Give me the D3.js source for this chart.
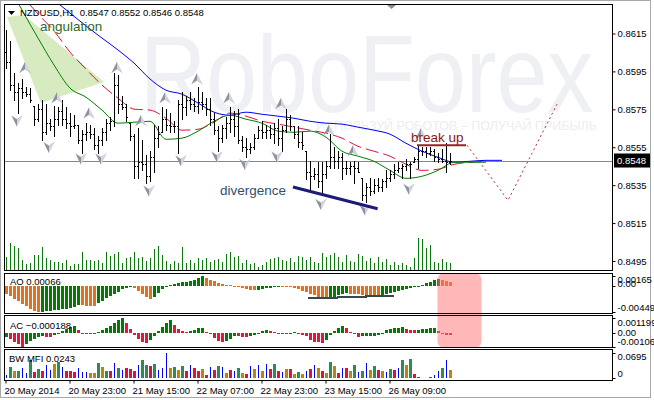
<!DOCTYPE html>
<html><head><meta charset="utf-8">
<script src="https://cdn.jsdelivr.net/npm/d3@7"></script>
<style>
body{margin:0;background:#fff;}
svg{display:block;font-family:"Liberation Sans",Arial,sans-serif;}
</style></head><body>
<svg id="c" width="654" height="400"></svg>
<script>
// ---------------- DATA ----------------
const symbol = "NZDUSD", timeframe = "H1";
const barOpen = [0.8605,0.8600,0.8588,0.8584,0.8586,0.8584,0.8583,0.8577,0.8570,0.8575,
 0.8563,0.8568,0.8566,0.8570,0.8574,0.8570,0.8568,0.8566,0.8567,0.8559,
 0.8562,0.8563,0.8562,0.8556,0.8559,0.8563,0.8568,0.8569,0.8588,0.8578,
 0.8576,0.8568,0.8561,0.8545,0.8547,0.8546,0.8540,0.8550,0.8560,0.8563,
 0.8570,0.8567,0.8566,0.8566,0.8578,0.8576,0.8580,0.8578,0.8577,0.8579,
 0.8578,0.8575,0.8570,0.8564,0.8560,0.8565,0.8568,0.8570,0.8566,0.8559,
 0.8555,0.8554,0.8555,0.8560,0.8564,0.8563,0.8564,0.8562,0.8565,0.8560,
 0.8564,0.8570,0.8566,0.8562,0.8558,0.8553,0.8542,0.8540,0.8541,0.8537,
 0.8541,0.8545,0.8550,0.8548,0.8550,0.8544,0.8544,0.8545,0.8544,0.8539,
 0.8530,0.8534,0.8532,0.8535,0.8534,0.8537,0.8539,0.8541,0.8543,0.8544,
 0.8545,0.8546,0.8547,0.8549,0.8553,0.8553,0.8552,0.8553,0.8550,0.8549,
 0.8548,0.8547];
const barHigh = [0.8617,0.8611,0.8594,0.8589,0.8591,0.8587,0.8586,0.8577,0.8578,0.8580,
 0.8578,0.8570,0.8577,0.8576,0.8580,0.8576,0.8573,0.8572,0.8567,0.8564,
 0.8568,0.8567,0.8565,0.8561,0.8565,0.8570,0.8571,0.8594,0.8593,0.8582,
 0.8578,0.8568,0.8562,0.8565,0.8559,0.8551,0.8553,0.8567,0.8566,0.8576,
 0.8575,0.8573,0.8569,0.8580,0.8584,0.8582,0.8584,0.8581,0.8587,0.8584,
 0.8581,0.8581,0.8573,0.8566,0.8567,0.8571,0.8576,0.8574,0.8575,0.8561,
 0.8560,0.8557,0.8562,0.8566,0.8569,0.8567,0.8567,0.8568,0.8570,0.8566,
 0.8575,0.8572,0.8566,0.8566,0.8563,0.8553,0.8548,0.8544,0.8547,0.8547,
 0.8548,0.8562,0.8555,0.8553,0.8552,0.8548,0.8547,0.8548,0.8547,0.8539,
 0.8536,0.8539,0.8538,0.8539,0.8538,0.8543,0.8543,0.8546,0.8547,0.8546,
 0.8549,0.8547,0.8550,0.8556,0.8555,0.8555,0.8555,0.8554,0.8552,0.8554,
 0.8557,0.8552];
const barLow = [0.8597,0.8585,0.8580,0.8573,0.8581,0.8582,0.8579,0.8567,0.8569,0.8559,
 0.8562,0.8564,0.8561,0.8567,0.8567,0.8565,0.8561,0.8565,0.8557,0.8552,
 0.8559,0.8560,0.8554,0.8552,0.8556,0.8559,0.8564,0.8566,0.8573,0.8575,
 0.8569,0.8559,0.8539,0.8539,0.8543,0.8536,0.8537,0.8542,0.8555,0.8563,
 0.8564,0.8563,0.8563,0.8552,0.8570,0.8572,0.8575,0.8574,0.8573,0.8575,
 0.8572,0.8567,0.8562,0.8553,0.8558,0.8560,0.8563,0.8561,0.8557,0.8553,
 0.8550,0.8552,0.8554,0.8560,0.8560,0.8560,0.8560,0.8557,0.8556,0.8553,
 0.8563,0.8564,0.8560,0.8555,0.8554,0.8538,0.8532,0.8538,0.8534,0.8531,
 0.8539,0.8544,0.8544,0.8544,0.8538,0.8541,0.8541,0.8536,0.8542,0.8527,
 0.8526,0.8530,0.8531,0.8532,0.8532,0.8534,0.8537,0.8539,0.8542,0.8539,
 0.8543,0.8539,0.8547,0.8544,0.8551,0.8550,0.8551,0.8548,0.8547,0.8547,
 0.8542,0.8546];
const barClose = [0.8600,0.8588,0.8584,0.8586,0.8584,0.8583,0.8580,0.8570,0.8575,0.8563,
 0.8568,0.8566,0.8570,0.8574,0.8570,0.8568,0.8566,0.8567,0.8559,0.8562,
 0.8563,0.8562,0.8556,0.8559,0.8563,0.8568,0.8569,0.8588,0.8578,0.8576,
 0.8571,0.8561,0.8545,0.8547,0.8546,0.8540,0.8550,0.8560,0.8562,0.8570,
 0.8567,0.8566,0.8566,0.8578,0.8576,0.8580,0.8578,0.8577,0.8579,0.8578,
 0.8575,0.8570,0.8564,0.8560,0.8565,0.8568,0.8570,0.8566,0.8559,0.8555,
 0.8554,0.8555,0.8560,0.8564,0.8563,0.8564,0.8562,0.8565,0.8560,0.8564,
 0.8570,0.8566,0.8562,0.8558,0.8556,0.8542,0.8540,0.8541,0.8537,0.8541,
 0.8545,0.8550,0.8548,0.8550,0.8544,0.8544,0.8545,0.8544,0.8542,0.8530,
 0.8534,0.8532,0.8535,0.8534,0.8537,0.8539,0.8541,0.8543,0.8544,0.8545,
 0.8546,0.8546,0.8549,0.8553,0.8553,0.8552,0.8553,0.8550,0.8549,0.8548,
 0.8547,0.8548];
const tickVolume = [1300,2700,2400,2200,1000,600,700,1500,1500,2300,
 1200,1000,800,800,700,1000,400,600,600,1800,
 1000,1000,900,1000,700,1800,1400,1600,1800,700,
 1200,1300,1800,1200,1300,900,1200,2100,2400,1500,
 900,600,900,700,2300,700,1000,700,1200,1000,
 1200,800,1000,1100,800,1600,1800,1300,1400,700,
 1000,600,700,300,500,800,1100,1200,1300,1000,
 900,1200,800,1400,1300,1000,1300,800,700,1700,
 1300,1500,1700,1300,800,1500,900,800,1600,1400,
 900,1200,700,1300,800,1100,500,800,500,700,
 500,300,1200,3200,3100,2200,2500,800,700,1100,
 800,700];

// Alligator lines, sampled every 4 bars (index may run past the last bar: forward shift)
const maIndex = [0,4,8,12,16,20,24,28,32,36,40,44,48,52,56,60,64,68,72,76,80,84,88,92,96,100,104,108,112,116,120,124];
const jaw = [0.86565,0.86486,0.86401,0.86327,0.86258,0.86190,0.86126,0.86063,0.85994,0.85910,0.85851,0.85830,0.85783,0.85735,0.85719,0.85735,0.85724,0.85714,0.85703,0.85687,0.85677,0.85672,0.85656,0.85640,0.85619,0.85571,0.85529,0.85497,0.85471,0.85476,0.85481,0.85481];
const teeth = [0.86443,0.86348,0.86253,0.86163,0.86052,0.85962,0.85878,0.85809,0.85751,0.85746,0.85703,0.85640,0.85645,0.85682,0.85730,0.85714,0.85687,0.85672,0.85656,0.85640,0.85624,0.85598,0.85555,0.85529,0.85503,0.85460,0.85428,0.85434,0.85460,0.85471,0.85476,null];
const lips = [0.86433,0.86274,0.86126,0.85984,0.85862,0.85814,0.85746,0.85677,0.85682,0.85687,0.85592,0.85598,0.85635,0.85687,0.85719,0.85698,0.85677,0.85635,0.85629,0.85635,0.85603,0.85529,0.85503,0.85476,0.85428,0.85386,0.85397,0.85428,0.85471,0.85471,0.85471,null];

// Fractals (bar index, arrow price)
const fractalUpIndex = [4,12,20,27,33,39,47,55,68,80,86,103];
const fractalUpPrice = [0.8597,0.8581,0.8573,0.8597,0.8569,0.8581,0.8591,0.8581,0.8578,0.8564,0.8553,0.8562];
const fractalDownIndex = [2,10,18,23,35,43,52,59,67,78,89,100];
const fractalDownPrice = [0.8569,0.8555,0.8549,0.8549,0.8532,0.8548,0.8550,0.8546,0.8550,0.8525,0.8522,0.8533];

// Awesome Oscillator
const aoValues = [-0.00136,-0.00179,-0.00222,-0.00264,-0.00307,-0.00350,-0.00392,-0.00427,-0.00449,-0.00444,
 -0.00437,-0.00430,-0.00421,-0.00413,-0.00403,-0.00392,-0.00380,-0.00368,-0.00333,-0.00338,
 -0.00345,-0.00350,-0.00351,-0.00299,-0.00256,-0.00213,-0.00179,-0.00142,-0.00102,-0.00060,
 -0.00034,-0.00014,-0.00043,-0.00094,-0.00145,-0.00196,-0.00227,-0.00196,-0.00119,-0.00060,
 -0.00017,0.00014,0.00031,0.00048,0.00060,0.00068,0.00082,0.00102,0.00136,0.00165,
 0.00128,0.00102,0.00077,0.00051,0.00031,0.00020,0.00010,-0.00003,-0.00017,-0.00034,
 -0.00051,-0.00068,-0.00078,-0.00068,-0.00056,-0.00048,-0.00034,-0.00020,-0.00010,-0.00015,
 -0.00020,-0.00026,-0.00034,-0.00060,-0.00085,-0.00111,-0.00136,-0.00162,-0.00188,-0.00210,
 -0.00218,-0.00208,-0.00188,-0.00167,-0.00148,-0.00133,-0.00136,-0.00142,-0.00147,-0.00152,
 -0.00157,-0.00160,-0.00164,-0.00167,-0.00154,-0.00136,-0.00119,-0.00102,-0.00085,-0.00068,
 -0.00051,-0.00038,-0.00022,-0.00009,0.00017,0.00043,0.00068,0.00094,0.00109,0.00090,
 0.00077,0.00066];
// Accelerator Oscillator
const acValues = [-0.000312,-0.000467,-0.000701,-0.000857,-0.001060,-0.000857,-0.000623,-0.000467,-0.000312,-0.000234,
 -0.000273,-0.000296,-0.000156,-0.000039,0.000156,0.000312,0.000467,0.000545,0.000234,0.000039,
 -0.000039,-0.000062,-0.000078,0.000078,0.000234,0.000390,0.000545,0.000779,0.001013,0.001199,
 0.000779,0.000312,-0.000156,-0.000467,-0.000701,-0.000818,-0.000545,-0.000234,0.000156,0.000467,
 0.000779,0.001013,0.000623,0.000312,0.000156,0.000078,0.000156,0.000273,0.000390,0.000428,
 0.000117,-0.000078,-0.000390,-0.000623,-0.000701,-0.000623,-0.000467,-0.000195,-0.000234,-0.000273,
 -0.000312,-0.000234,-0.000156,-0.000039,0.000156,0.000234,0.000156,0.000078,0.000039,-0.000039,
 -0.000062,0.000039,0.000078,-0.000039,-0.000156,-0.000234,-0.000545,-0.000701,-0.000740,-0.000763,
 -0.000545,-0.000156,0.000156,0.000390,0.000584,0.000428,0.000117,-0.000078,-0.000273,-0.000257,
 -0.000234,-0.000218,-0.000195,-0.000117,0.000039,0.000234,0.000312,0.000390,0.000428,0.000467,
 0.000351,0.000273,0.000234,0.000273,0.000312,0.000351,0.000390,0.000405,0.000156,0.000023,
 -0.000117,-0.000188];
// Market Facilitation Index + state (G green, F fade/brown, K fake/blue, S squat/pink)
const mfiValues = [0.0092,0.0325,0.0203,0.0203,0.0297,0.0139,0.0509,0.0186,0.0259,0.0203,
 0.0370,0.0222,0.0389,0.0464,0.0325,0.0203,0.0203,0.0167,0.0297,0.0186,
 0.0186,0.0139,0.0139,0.0417,0.0325,0.0203,0.0195,0.0417,0.0278,0.0222,
 0.0297,0.0259,0.0203,0.0370,0.0509,0.0370,0.0353,0.0398,0.0222,0.0278,
 0.0695,0.0297,0.0325,0.0231,0.0353,0.0203,0.0370,0.0297,0.0203,0.0259,
 0.0092,0.0325,0.0231,0.0342,0.0325,0.0139,0.0231,0.0203,0.0278,0.0139,
 0.0120,0.0353,0.0250,0.0370,0.0203,0.0389,0.0259,0.0398,0.0203,0.0167,
 0.0259,0.0259,0.0111,0.0167,0.0111,0.0203,0.0259,0.0370,0.0278,0.0203,
 0.0139,0.0445,0.0342,0.0139,0.0297,0.0278,0.0203,0.0370,0.0186,0.0203,
 0.0417,0.0231,0.0342,0.0231,0.0203,0.0167,0.0259,0.0231,0.0278,0.0509,
 0.0370,0.0528,0.0120,0.0047,0.0019,0.0019,0.0028,0.0092,0.0203,0.0297,
 0.0509,0.0243];
const mfiState = "KGFGKKGSGSKKFGKSSSKKKFFGFGSKGKSSSKGGSGKKKFGFGSKSSFSKSGKFSKGFSKFKFKSGSKFSFGFKSKFSFGFSKSFGKGKFGSFKGSKGFGSSFKSKKGKF";

// axes
const priceTicks = [0.8495,0.8515,0.8535,0.8555,0.8575,0.8595,0.8615];
const timeTickIndex = [0,16,32,48,64,80,96];
const timeTickLabels = ["20 May 2014","20 May 23:00","21 May 15:00","22 May 07:00","22 May 23:00","23 May 15:00","26 May 09:00"];
const aoScaleLabels = [0.00165,0,-0.00449];
const acScaleLabels = [0.001199,0,-0.00106];
const mfiScaleLabels = [0.0695,0];

// annotations (bar index / price)
const angulationZone = [[0.25,0.86237],[4.5,0.86248],[24.5,0.85894],[8.75,0.85783]];
const angulationLabel = {i:8.5,p:0.86163,text:"angulation"};
const divergenceLine = [[71.75,0.85340],[92.9,0.85226]];
const divergenceLabel = {i:53.5,p:0.85296,text:"divergence"};
const breakLine = [[102.75,0.85561],[115,0.85561]];
const breakLabel = {i:101.25,p:0.85576,text:"break up"};
const forecastPath = [[115.25,0.85561],[125.5,0.85270],[137.75,0.85777]];
const aoLevels = [[75.5,83,-0.00215],[82.75,90.25,-0.00198],[89.75,97,-0.00181]];
const highlightRange = [108,119];

// ---------------- LAYOUT ----------------
const svg = d3.select('#c');
const L = 4.5, R = 612.5;
const pMain = {t:4.5,b:270.5}, pAO = {t:273.5,b:313.5}, pAC = {t:315.5,b:347.5}, pBW = {t:349.5,b:380.5};
const N = barClose.length, last = N-1;
const x = d3.scaleLinear().domain([0,111]).range([6,450]);
const X = i => Math.round(x(i));
const y = d3.scaleLinear().domain([0.8495,0.8615]).range([261,33.5]);
const yVol = d3.scaleLinear().domain([0,3300]).range([270,237]);
const yAO = d3.scaleLinear().domain([-0.00449,0.00165]).range([312,276]);
const yAC = d3.scaleLinear().domain([-0.00106,0.001199]).range([346.5,318]);
const yBW = d3.scaleLinear().domain([0,0.0695]).range([378.3,353.3]);

// outer window frame
svg.append('rect').attr('x',0.5).attr('y',0.5).attr('width',650).attr('height',397)
  .attr('fill','#fff').attr('stroke','#a8a8a8');

const defs = svg.append('defs');
defs.append('clipPath').attr('id','cm').append('rect').attr('x',L).attr('y',pMain.t).attr('width',R-L).attr('height',pMain.b-pMain.t);

// watermark
const wm = svg.append('g').attr('clip-path','url(#cm)');
wm.append('text').attr('transform','translate(140,112) scale(0.833,1)').attr('font-size',110).attr('fill','#eef0f4')
  .text('RoboForex');
wm.append('text').attr('x',597).attr('y',130).attr('text-anchor','end').attr('font-size',12.5).attr('fill','#eceef2')
  .text('ИСПОЛЬЗУЙ РОБОТОВ – ПОЛУЧАЙ ПРИБЫЛЬ');

const gm = svg.append('g').attr('clip-path','url(#cm)');
// angulation zone
gm.append('path').attr('d', d3.line().x(d=>x(d[0])).y(d=>y(d[1]))(angulationZone)+'Z')
  .attr('fill','#c2de9e').attr('opacity',0.65);

// current price line
gm.append('line').attr('x1',L).attr('x2',R).attr('y1',Math.round(y(barClose[last]))+0.5).attr('y2',Math.round(y(barClose[last]))+0.5)
  .attr('stroke','#7a8a9a').attr('stroke-width',1);

// volumes
gm.append('g').selectAll('path').data(tickVolume).join('path')
  .attr('d',(v,i)=>`M${X(i)+0.5},${pMain.b}V${yVol(v)}`).attr('stroke','#0a7a0a').attr('stroke-width',1).attr('shape-rendering','crispEdges');

// alligator
const maLine = arr => d3.line().defined((d,k)=>arr[k]!=null).x((d,k)=>x(maIndex[k])).y((d,k)=>y(arr[k])).curve(d3.curveMonotoneX)(arr);
gm.append('path').attr('d',maLine(jaw)).attr('fill','none').attr('stroke','#0000ff').attr('stroke-width',1);
gm.append('path').attr('d',maLine(teeth)).attr('fill','none').attr('stroke','#e0103c').attr('stroke-width',1).attr('stroke-dasharray','13,5');
gm.append('path').attr('d',maLine(lips)).attr('fill','none').attr('stroke','#008000').attr('stroke-width',1);

// OHLC bars
const bars = gm.append('g').attr('stroke','#000').attr('stroke-width',1).attr('shape-rendering','crispEdges').attr('fill','none');
barClose.forEach((c,i)=>{
  const xx = X(i);
  const yo = Math.round(y(barOpen[i]))+0.5, yc = Math.round(y(c))+0.5;
  bars.append('path').attr('d',`M${xx+0.5},${Math.round(y(barHigh[i]))}V${Math.round(y(barLow[i]))+1}M${xx-1},${yo}H${xx}M${xx+1},${yc}H${xx+2}`);
});

// fractal arrows
function arrow(g, cx, cy, up){
  const s = up?1:-1;
  const tip=[cx,cy-6*s], bl=[cx-5.5,cy+5*s], n=[cx,cy+1.5*s], br=[cx+5.5,cy+5*s];
  g.append('path').attr('d',`M${tip}L${bl}L${n}Z`).attr('fill','#8e909e');
  g.append('path').attr('d',`M${tip}L${br}L${n}Z`).attr('fill','#d2d4dc');
  g.append('path').attr('d',`M${bl}L${n}L${br}`).attr('fill','none').attr('stroke','#b8bac4').attr('stroke-width',0.6);
}
const gf = gm.append('g');
fractalUpIndex.forEach((i,k)=>arrow(gf, x(i)+3, y(fractalUpPrice[k]), true));
fractalDownIndex.forEach((i,k)=>arrow(gf, x(i)+3, y(fractalDownPrice[k]), false));

// annotations
const ln = d3.line().x(d=>x(d[0])).y(d=>y(d[1]));
gm.append('path').attr('d',ln(divergenceLine)).attr('stroke','#1c1c78').attr('stroke-width',3).attr('fill','none');
gm.append('path').attr('d',ln(breakLine)).attr('stroke','#9b2222').attr('stroke-width',2).attr('fill','none');
gm.append('path').attr('d',ln(forecastPath)).attr('stroke','#b0303a').attr('stroke-width',1).attr('stroke-dasharray','2,3').attr('fill','none');
gm.append('text').attr('x',x(angulationLabel.i)).attr('y',y(angulationLabel.p)).attr('font-size',13.5).attr('fill','#2f6a2a').text(angulationLabel.text);
gm.append('text').attr('x',x(divergenceLabel.i)).attr('y',y(divergenceLabel.p)).attr('font-size',13.5).attr('fill','#34506e').text(divergenceLabel.text);
gm.append('text').attr('x',x(breakLabel.i)).attr('y',y(breakLabel.p)).attr('font-size',13.5).attr('fill','#8b1515').text(breakLabel.text);

// chart shift marker and title
svg.append('path').attr('d','M387,5L396,5L391.5,9Z').attr('fill','#8c8c8c');
svg.append('path').attr('d','M8,11L15,11L11.5,15Z').attr('fill','#000');
const f4 = d3.format('.4f');
svg.append('text').attr('x',20).attr('y',16).attr('font-size',9.5).attr('fill','#000').attr('xml:space','preserve')
  .text(`${symbol},${timeframe}  ${f4(barOpen[last])} ${f4(barHigh[last])} ${f4(barLow[last])} ${f4(barClose[last])}`);

// ---------------- SUB PANELS ----------------
const gAO = svg.append('g').attr('shape-rendering','crispEdges');
aoValues.forEach((v,i)=>{
  const up = i===0 ? false : v>aoValues[i-1];
  const y0 = yAO(0), y1 = yAO(v);
  gAO.append('rect').attr('x',X(i)-1).attr('width',3).attr('y',Math.min(y0,y1)).attr('height',Math.max(1,Math.abs(y1-y0)))
    .attr('fill', up ? '#067806' : '#e2701e');
});
aoLevels.forEach(d=>{
  gAO.append('line').attr('x1',x(d[0])).attr('x2',x(d[1])).attr('y1',yAO(d[2])).attr('y2',yAO(d[2])).attr('stroke','#34494e').attr('stroke-width',2);
});
const gAC = svg.append('g').attr('shape-rendering','crispEdges');
acValues.forEach((v,i)=>{
  const up = i===0 ? true : v>acValues[i-1];
  const y0 = yAC(0), y1 = yAC(v);
  gAC.append('rect').attr('x',X(i)-1).attr('width',3).attr('y',Math.min(y0,y1)).attr('height',Math.max(1,Math.abs(y1-y0)))
    .attr('fill', up ? '#067806' : '#e0173f');
});
const mfiColor = {G:'#2e8b57',F:'#b8860b',K:'#0000ff',S:'#dc143c'};
const gBW = svg.append('g').attr('shape-rendering','crispEdges');
mfiValues.forEach((v,i)=>{
  const st = mfiState[i];
  const w = st==='K' ? 1 : 3;
  gBW.append('rect').attr('x',st==='K'?X(i):X(i)-1).attr('width',w).attr('y',yBW(v)).attr('height',yBW(0)-yBW(v)).attr('fill',mfiColor[st]);
});

// highlight box over AO/AC
svg.append('rect').attr('x',x(highlightRange[0])-0.5).attr('width',x(highlightRange[1])-x(highlightRange[0])).attr('y',pAO.t).attr('height',pAC.b-pAO.t)
  .attr('rx',6).attr('fill','#ff7070').attr('opacity',0.5);

// panel frames
[pMain,pAO,pAC,pBW].forEach(p=>{
  svg.append('rect').attr('x',L).attr('y',p.t).attr('width',R-L).attr('height',p.b-p.t).attr('fill','none').attr('stroke','#000').attr('stroke-width',1);
});

// panel labels
const fmt5=d3.format('.5f'), fmt6=d3.format('.6f');
svg.append('text').attr('x',10).attr('y',285).attr('font-size',9.5).text(`AO ${fmt5(aoValues[last])}`);
svg.append('text').attr('x',10).attr('y',329).attr('font-size',9.5).text(`AC ${fmt6(acValues[last])}`);
svg.append('text').attr('x',9).attr('y',362).attr('font-size',9.5).text(`BW MFI ${f4(mfiValues[last])}`);

// right axes
function rightAxis(scale, vals, fmtf, offs){
  const g = svg.append('g').attr('transform',`translate(${R},0)`);
  vals.forEach((v,k)=>{
    const yy = scale(v);
    g.append('line').attr('x1',0).attr('x2',3).attr('y1',Math.round(yy)+0.5).attr('y2',Math.round(yy)+0.5).attr('stroke','#000');
    g.append('text').attr('x',5).attr('y',yy+(offs?offs[k]:0)).attr('dy','0.35em').attr('font-size',9.5).text(fmtf(v,k));
  });
}
const ay = d3.axisRight(y).tickValues(priceTicks).tickSize(3).tickPadding(2).tickFormat(f4);
svg.append('g').attr('transform',`translate(${R},0)`).call(ay)
  .call(g=>g.select('.domain').remove())
  .call(g=>g.selectAll('text').attr('font-size',9.5).attr('font-family','"Liberation Sans",Arial,sans-serif').attr('fill','#000'))
  .call(g=>g.selectAll('line').attr('stroke','#000'));
const aoTxt = ['0.00165','0.00','-0.00449'];
rightAxis(yAO, aoScaleLabels, (v,k)=>aoTxt[k], [4,-1.5,-4]);
const acTxt = ['0.001199','0.00','-0.00106'];
rightAxis(yAC, acScaleLabels, (v,k)=>acTxt[k], [5,-0.5,-4.5]);
rightAxis(yBW, mfiScaleLabels, (v,k)=>k===0?'0.0695':'0', [3.5,-5]);

// current price box
const yp = y(barClose[last]);
svg.append('rect').attr('x',614).attr('y',yp-7).attr('width',36).attr('height',14).attr('fill','#000');
svg.append('text').attr('x',617).attr('y',yp).attr('dy','0.35em').attr('font-size',9.5).attr('fill','#fff').text(f4(barClose[last]));

// time axis
const xt = d3.scaleLinear().domain([0,111]).range([5,449]);
const ax = d3.axisBottom(xt).tickValues(timeTickIndex).tickSize(3).tickPadding(4).tickFormat((d,k)=>timeTickLabels[k]);
svg.append('g').attr('transform',`translate(0.5,${pBW.b})`).call(ax)
  .call(g=>g.select('.domain').remove())
  .call(g=>g.selectAll('line').attr('stroke','#000'))
  .call(g=>g.selectAll('text').attr('text-anchor','start').attr('x',-1.5).attr('font-size',9.5).attr('font-family','"Liberation Sans",Arial,sans-serif').attr('fill','#000'));
</script></body></html>
